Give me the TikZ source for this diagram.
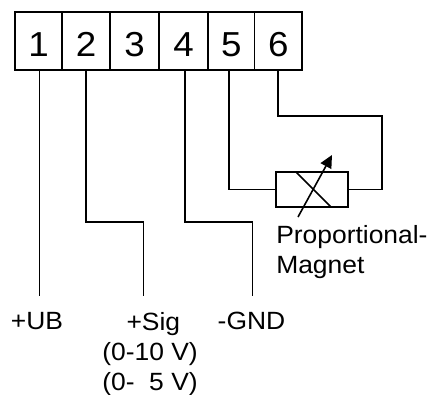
\documentclass[tikz,border=0pt]{standalone}
\usepackage{fontspec}
\setmainfont[FakeStretch=1.06]{Liberation Sans}
\usetikzlibrary{arrows.meta}

\tikzset{
  terminal/.style={draw,line width=1.25pt,minimum height=43.5pt,inner sep=0pt,text height=22.8pt,text depth=0pt,font=\fontsize{26}{28}\selectfont},
  wire/.style={line width=1.2pt},
  label/.style={inner sep=0pt,align=left,font=\fontsize{18.7}{22.5}\selectfont},
}

\begin{document}
\begin{tikzpicture}[x=0.75pt,y=0.75pt,yscale=-1,xscale=1]
\useasboundingbox (0,0) rectangle (429,394);

% Terminal block
\node [terminal,minimum width=35.25pt] (t1) at (38.5,41) {1};
\node [terminal,minimum width=36pt] (t2) at (86,41) {2};
\node [terminal,minimum width=36.75pt] (t3) at (134.5,41) {3};
\node [terminal,minimum width=36.75pt] (t4) at (183.5,41) {4};
\node [terminal,minimum width=34.9pt] (t5) at (231.25,41) {5};
\node [terminal,minimum width=35.6pt] (t6) at (278.25,41) {6};

% Magnet
\node [draw,wire,minimum width=54pt,minimum height=26.25pt,inner sep=0pt] (magnet) at (312,189.5) {};

% Wire ends
\coordinate (ub) at (39.5,296);
\coordinate (sig) at (143.5,296);
\coordinate (gnd) at (252.5,296);
\coordinate (loop) at (382,116);
\coordinate (crossa) at (296,172);
\coordinate (crossb) at (331,207);
\coordinate (arrowa) at (298,217);
\coordinate (arrowb) at (332,155);

% Wires
\draw [wire] (t1.south -| ub) -- (ub);
\draw [wire] (t2.south) -- (86,222) -| (sig);
\draw [wire] (t4.south -| 185,0) -- (185,222) -| (gnd);
\draw [wire] (t5.south -| 229,0) |- (magnet.west);
\draw [wire] (t6.south) |- (loop) |- (magnet.east);

% Magnet symbol
\draw [wire] (crossa) -- (crossb);
\draw [wire,-{Triangle[length=9.5pt,width=9pt]}] (arrowa) -- (arrowb);

% Text Node
\node [label,anchor=base] (ublabel) at (37,329) {+UB};
\node [label,anchor=base,align=center] (siglabel) at (150,390) {\hspace*{5pt}+Sig\\(0-10 V)\\(0-\ \ 5 V)};
\node [label,anchor=base] (gndlabel) at (251.5,329) {-GND};
\node [label,anchor=base west] (magnetlabel) at (276,273) {Proportional-\\Magnet};

\end{tikzpicture}
\end{document}
